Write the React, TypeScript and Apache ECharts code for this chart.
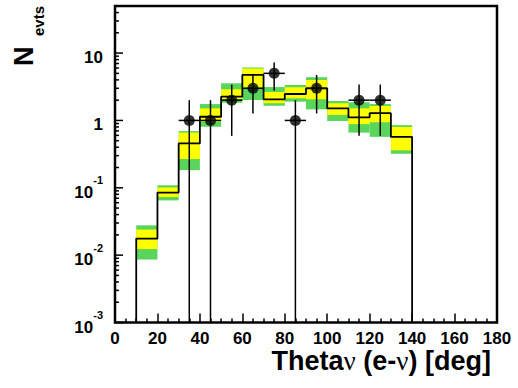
import React, { useEffect, useRef } from "react";
import * as echarts from "echarts";

// Histogram bins (deg)
const binLow = [10, 20, 30, 40, 50, 60, 70, 80, 90, 100, 110, 120, 130];
const binHigh = [20, 30, 40, 50, 60, 70, 80, 90, 100, 110, 120, 130, 140];
// Expected number of events (black step line)
const expected = [0.0176, 0.085, 0.456, 1.135, 2.25, 4.74, 2.06, 2.47, 3.0, 1.51, 1.11, 1.28, 0.57];
// ±2 sigma band (green)
const greenHi = [0.0277, 0.109, 0.695, 1.75, 3.56, 6.1, 3.13, 3.36, 4.38, 1.94, 1.86, 1.75, 0.85];
const greenLo = [0.0086, 0.065, 0.183, 0.805, 1.83, 2.01, 1.65, 1.9, 1.46, 0.98, 0.66, 0.57, 0.32];
// ±1 sigma band (yellow)
const yellowHi = [0.024, 0.101, 0.66, 1.51, 2.9, 5.9, 2.65, 3.11, 3.99, 1.8, 1.51, 1.64, 0.8];
const yellowLo = [0.0123, 0.073, 0.267, 0.957, 2.06, 3.11, 1.8, 2.13, 2.06, 1.2, 0.88, 0.94, 0.36];
// Observed data points
const dataX = [35, 45, 55, 65, 75, 85, 95, 115, 125];
const dataY = [1, 1, 2, 3, 5, 1, 3, 2, 2];
const dataErrUp = [1, 1, 1.41, 1.73, 2.24, 1, 1.73, 1.41, 1.41];
const dataErrLow = [1, 1, 1.41, 1.73, 2.24, 1, 1.73, 1.41, 1.41];
const dataXErr = [5, 5, 5, 5, 5, 5, 5, 5, 5];
// Axis ticks / labels
const xTickLabels = ["0", "20", "40", "60", "80", "100", "120", "140", "160", "180"];
const yTickValues = [0.001, 0.01, 0.1, 1, 10];
const yTickLabels = ["{b|10}{e|-3}", "{b|10}{e|-2}", "{b|10}{e|-1}", "{b|1}", "{b|10}"];

const Y_MIN = 0.001;
const Y_MAX = 50;
const FONT = "'Liberation Sans', Arial, Helvetica, sans-serif";

export default function App() {
  const ref = useRef<HTMLDivElement>(null);

  useEffect(() => {
    if (!ref.current) return;
    const chart = echarts.init(ref.current, undefined, { renderer: "svg" });

    const greenData = binLow.map((x0, i) => [x0, binHigh[i], greenLo[i], greenHi[i]]);
    const yellowData = binLow.map((x0, i) => [x0, binHigh[i], yellowLo[i], yellowHi[i]]);
    const stepData: number[][] = [[binLow[0], Y_MIN]];
    binLow.forEach((x0, i) => {
      stepData.push([x0, expected[i]]);
      stepData.push([binHigh[i], expected[i]]);
    });
    stepData.push([binHigh[binHigh.length - 1], Y_MIN]);
    const errData = dataX.map((x, i) => [x, dataY[i], dataErrUp[i], dataErrLow[i], dataXErr[i]]);

    // log-axis tick marks (majors at decades, minors at 2..9)
    const yTicks: number[][] = [];
    for (let d = -3; d <= 1; d++) {
      for (let m = 1; m <= 9; m++) {
        const v = m * Math.pow(10, d);
        if (v <= Y_MAX) yTicks.push([0, v, m === 1 ? 8 : 4]);
      }
    }

    const bandRender = (color: string) => (params: any, api: any) => {
      const p0 = api.coord([api.value(0), api.value(3)]);
      const p1 = api.coord([api.value(1), api.value(2)]);
      return {
        type: "rect",
        shape: { x: p0[0], y: p0[1], width: p1[0] - p0[0], height: p1[1] - p0[1] },
        style: { fill: color },
      };
    };

    chart.setOption({
      animation: false,
      backgroundColor: "#ffffff",
      grid: {
        left: 115,
        right: 21,
        top: 6,
        bottom: 65.5,
        show: true,
        borderColor: "#000",
        borderWidth: 2.5,
      },
      xAxis: {
        type: "value",
        min: 0,
        max: 180,
        interval: 20,
        axisLine: { show: false },
        axisTick: { show: true, inside: true, length: 9, lineStyle: { color: "#000", width: 1.5 } },
        minorTick: { show: true, splitNumber: 4, length: 4, lineStyle: { color: "#000", width: 1.5 } },
        splitLine: { show: false },
        axisLabel: {
          margin: 7,
          color: "#000",
          fontFamily: FONT,
          fontWeight: "bold",
          fontSize: 17,
          formatter: (v: number) => xTickLabels[Math.round(v / 20)] ?? "",
        },
      },
      yAxis: {
        type: "log",
        logBase: 10,
        min: Y_MIN,
        max: Y_MAX,
        axisLine: { show: false },
        axisTick: { show: false },
        splitLine: { show: false },
        axisLabel: {
          margin: 12,
          color: "#000",
          fontFamily: FONT,
          fontWeight: "bold",
          formatter: (v: number) => {
            const idx = yTickValues.findIndex((t) => Math.abs(Math.log10(t) - Math.log10(v)) < 1e-6);
            return idx >= 0 ? yTickLabels[idx] : "";
          },
          rich: {
            b: { fontFamily: FONT, fontWeight: "bold", fontSize: 17, color: "#000", verticalAlign: "bottom", lineHeight: 26 },
            e: { fontFamily: FONT, fontWeight: "bold", fontSize: 11, color: "#000", verticalAlign: "top", lineHeight: 26 },
          },
        },
      },
      graphic: [
        {
          type: "text",
          x: 37,
          y: 66,
          rotation: Math.PI / 2,
          style: { text: "N", font: "bold 27px " + FONT, fill: "#000", align: "left", verticalAlign: "bottom" },
        },
        {
          type: "text",
          x: 46,
          y: 36,
          rotation: Math.PI / 2,
          style: { text: "evts", font: "bold 15px " + FONT, fill: "#000", align: "left", verticalAlign: "bottom" },
        },
        {
          type: "text",
          x: 491,
          y: 361,
          style: {
            text: "{a|Theta}{n|ν}{a| (e-}{n|ν}{a|) [deg]}",
            align: "right",
            verticalAlign: "middle",
            rich: {
              a: { fontFamily: FONT, fontWeight: "bold", fontSize: 27, fill: "#000", color: "#000" },
              n: { fontFamily: "'Liberation Serif', 'DejaVu Serif', serif", fontWeight: "normal", fontSize: 27, fill: "#000", color: "#000" },
            },
          },
        },
      ],
      series: [
        {
          type: "custom",
          name: "green",
          data: greenData,
          encode: { x: [0, 1], y: [2, 3] },
          renderItem: bandRender("#58d55a"),
          z: 1,
          silent: true,
        },
        {
          type: "custom",
          name: "yellow",
          data: yellowData,
          encode: { x: [0, 1], y: [2, 3] },
          renderItem: bandRender("#ffff00"),
          z: 2,
          silent: true,
        },
        {
          type: "line",
          name: "expected",
          data: stepData,
          showSymbol: false,
          symbol: "none",
          lineStyle: { color: "#000", width: 1.8 },
          z: 3,
          silent: true,
        },
        {
          type: "custom",
          name: "errors",
          data: errData,
          encode: { x: 0, y: 1 },
          renderItem: (params: any, api: any) => {
            const x = api.value(0);
            const y = api.value(1);
            const up = api.value(2);
            const lo = api.value(3);
            const xe = api.value(4);
            const yl = Math.max(y - lo, Y_MIN);
            const top = api.coord([x, y + up]);
            const bot = api.coord([x, yl]);
            const l = api.coord([x - xe, y]);
            const r = api.coord([x + xe, y]);
            const st = { stroke: "#000", lineWidth: 1.5 };
            return {
              type: "group",
              children: [
                { type: "line", shape: { x1: top[0], y1: top[1], x2: bot[0], y2: bot[1] }, style: st },
                { type: "line", shape: { x1: l[0], y1: l[1], x2: r[0], y2: r[1] }, style: st },
              ],
            };
          },
          z: 4,
          silent: true,
        },
        {
          type: "scatter",
          name: "data",
          data: dataX.map((x, i) => [x, dataY[i]]),
          symbol: "circle",
          symbolSize: 11,
          itemStyle: { color: "#000" },
          z: 5,
          silent: true,
        },
        {
          type: "custom",
          name: "yticks",
          data: yTicks,
          encode: { x: 0, y: 1 },
          renderItem: (params: any, api: any) => {
            const p = api.coord([0, api.value(1)]);
            return {
              type: "line",
              shape: { x1: p[0], y1: p[1], x2: p[0] + api.value(2), y2: p[1] },
              style: { stroke: "#000", lineWidth: 1.5 },
            };
          },
          z: 6,
          silent: true,
        },
      ],
    });

    return () => chart.dispose();
  }, []);

  return (
    <div
      ref={ref}
      style={{ position: "absolute", left: 0, top: 0, width: 518, height: 388, background: "#fff" }}
    />
  );
}
